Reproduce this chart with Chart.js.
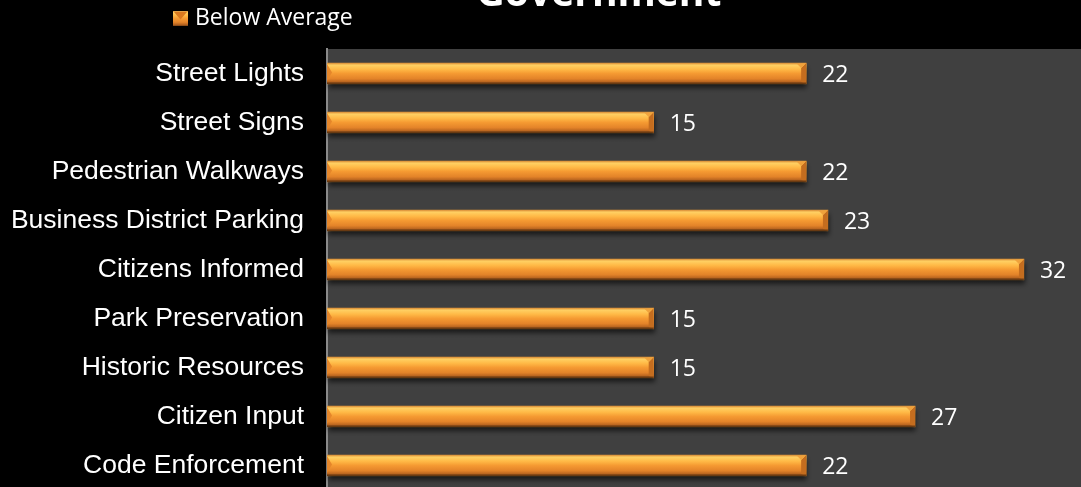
<!DOCTYPE html>
<html>
<head>
<meta charset="utf-8">
<script src="https://cdn.jsdelivr.net/npm/chart.js@4.4.1/dist/chart.umd.min.js"></script>
<style>
  html, body { margin: 0; padding: 0; background: #000; overflow: hidden; }
  canvas { display: block; }
</style>
</head>
<body>
<canvas id="chart" width="1081" height="490"></canvas>
<script>
// Survey topics rated below average
const chartTitle = 'Government';
const seriesLabel = 'Below Average';
const categories = [
  'Street Lights',
  'Street Signs',
  'Pedestrian Walkways',
  'Business District Parking',
  'Citizens Informed',
  'Park Preservation',
  'Historic Resources',
  'Citizen Input',
  'Code Enforcement'
];
const belowAverage = [22, 15, 22, 23, 32, 15, 15, 27, 22];

// Vertical shading for a bevelled orange bar
function barGradient(ctx, top, bottom) {
  const g = ctx.createLinearGradient(0, top, 0, bottom);
  g.addColorStop(0.00, '#d88a35');
  g.addColorStop(0.10, '#ffd063');
  g.addColorStop(0.30, '#ffb946');
  g.addColorStop(0.50, '#f59a32');
  g.addColorStop(0.75, '#e38329');
  g.addColorStop(0.90, '#b8641f');
  g.addColorStop(1.00, '#7a4418');
  return g;
}

const backdrop = {
  id: 'backdrop',
  beforeDraw(chart) {
    const { ctx, chartArea: a } = chart;
    ctx.save();
    ctx.fillStyle = '#000';
    ctx.fillRect(0, 0, chart.width, chart.height);
    ctx.fillStyle = '#404040';
    ctx.fillRect(a.left, a.top, a.right - a.left, a.bottom - a.top);
    ctx.restore();
  }
};

const bevelBars = {
  id: 'bevelBars',
  afterDatasetsDraw(chart) {
    const { ctx } = chart;
    const meta = chart.getDatasetMeta(0);
    ctx.save();
    meta.data.forEach((bar) => {
      const left = Math.min(bar.x, bar.base);
      const right = Math.max(bar.x, bar.base);
      const top = bar.y - bar.height / 2;
      const bottom = bar.y + bar.height / 2;
      const w = right - left, h = bottom - top;
      // soft drop shadow
      ctx.save();
      ctx.shadowColor = 'rgba(0,0,0,0.6)';
      ctx.shadowBlur = 5;
      ctx.shadowOffsetY = 4;
      ctx.shadowOffsetX = 1;
      ctx.fillStyle = barGradient(ctx, top, bottom);
      ctx.fillRect(left, top, w, h);
      ctx.restore();
      ctx.fillStyle = barGradient(ctx, top, bottom);
      ctx.fillRect(left, top, w, h);
      // right end bevel
      const b = 5;
      ctx.fillStyle = '#c46d1f';
      ctx.beginPath();
      ctx.moveTo(right - b, top + b);
      ctx.lineTo(right, top);
      ctx.lineTo(right, bottom);
      ctx.lineTo(right - b, bottom - 2);
      ctx.closePath();
      ctx.fill();
      ctx.fillStyle = '#f0a23c';
      ctx.beginPath();
      ctx.moveTo(right - b - 4, top + 1);
      ctx.lineTo(right, top);
      ctx.lineTo(right - b, top + b);
      ctx.closePath();
      ctx.fill();
      // left end bevel
      ctx.fillStyle = '#e5862a';
      ctx.beginPath();
      ctx.moveTo(left, top + 1);
      ctx.lineTo(left + 5, top + h * 0.45);
      ctx.lineTo(left, bottom - 3);
      ctx.closePath();
      ctx.fill();
      // bottom edge line
      ctx.fillStyle = 'rgba(100,55,18,0.85)';
      ctx.fillRect(left, bottom - 1.5, w, 1.5);
    });
    ctx.restore();
  }
};

const valueLabels = {
  id: 'valueLabels',
  afterDatasetsDraw(chart) {
    const { ctx } = chart;
    const meta = chart.getDatasetMeta(0);
    const values = chart.data.datasets[0].data;
    ctx.save();
    ctx.fillStyle = '#ffffff';
    ctx.font = '23px "Open Sans", sans-serif';
    ctx.textAlign = 'left';
    ctx.textBaseline = 'middle';
    meta.data.forEach((bar, i) => {
      ctx.fillText(String(values[i]), bar.x + 16, bar.y + 2);
    });
    ctx.restore();
  }
};

const headerPlugin = {
  id: 'headerPlugin',
  afterDraw(chart) {
    const { ctx } = chart;
    ctx.save();
    // title, partly above the top edge
    ctx.fillStyle = '#ffffff';
    ctx.font = 'bold 39px "Open Sans", sans-serif';
    ctx.textAlign = 'center';
    ctx.textBaseline = 'alphabetic';
    ctx.fillText(chartTitle, 599, 6);
    // legend entry
    const bx = 173, by = 11, bs = 15;
    ctx.fillStyle = barGradient(ctx, by, by + bs);
    ctx.fillRect(bx, by, bs, bs);
    ctx.fillStyle = '#d9781f';
    ctx.beginPath();
    ctx.moveTo(bx + 1, by + 1);
    ctx.lineTo(bx + bs - 1, by + 1);
    ctx.lineTo(bx + bs / 2, by + bs / 2 + 1);
    ctx.closePath();
    ctx.fill();
    ctx.fillStyle = '#ffffff';
    ctx.font = '23px "Open Sans", sans-serif';
    ctx.textAlign = 'left';
    ctx.textBaseline = 'middle';
    ctx.fillText(chart.data.datasets[0].label, 195, 18);
    ctx.restore();
  }
};

new Chart(document.getElementById('chart'), {
  type: 'bar',
  data: {
    labels: categories,
    datasets: [{
      label: seriesLabel,
      data: belowAverage,
      backgroundColor: '#f09a34',
      borderWidth: 0,
      barThickness: 21
    }]
  },
  options: {
    indexAxis: 'y',
    responsive: false,
    animation: false,
    layout: { padding: { top: 49, left: 0, right: 0, bottom: 0 } },
    plugins: {
      legend: { display: false },
      title: { display: false },
      tooltip: { enabled: false }
    },
    scales: {
      x: {
        display: false,
        min: 0,
        max: 34.62
      },
      y: {
        afterFit(scale) {
          scale.width = 327;
          scale.paddingTop = 0;
          scale.paddingBottom = 0;
        },
        grid: { display: false, drawTicks: false },
        border: { display: true, color: '#8a8a8a', width: 2 },
        ticks: {
          color: '#ffffff',
          padding: 23,
          font: { family: '"Liberation Sans", Arial, sans-serif', size: 26.5 }
        }
      }
    }
  },
  plugins: [backdrop, bevelBars, valueLabels, headerPlugin]
});
</script>
</body>
</html>
